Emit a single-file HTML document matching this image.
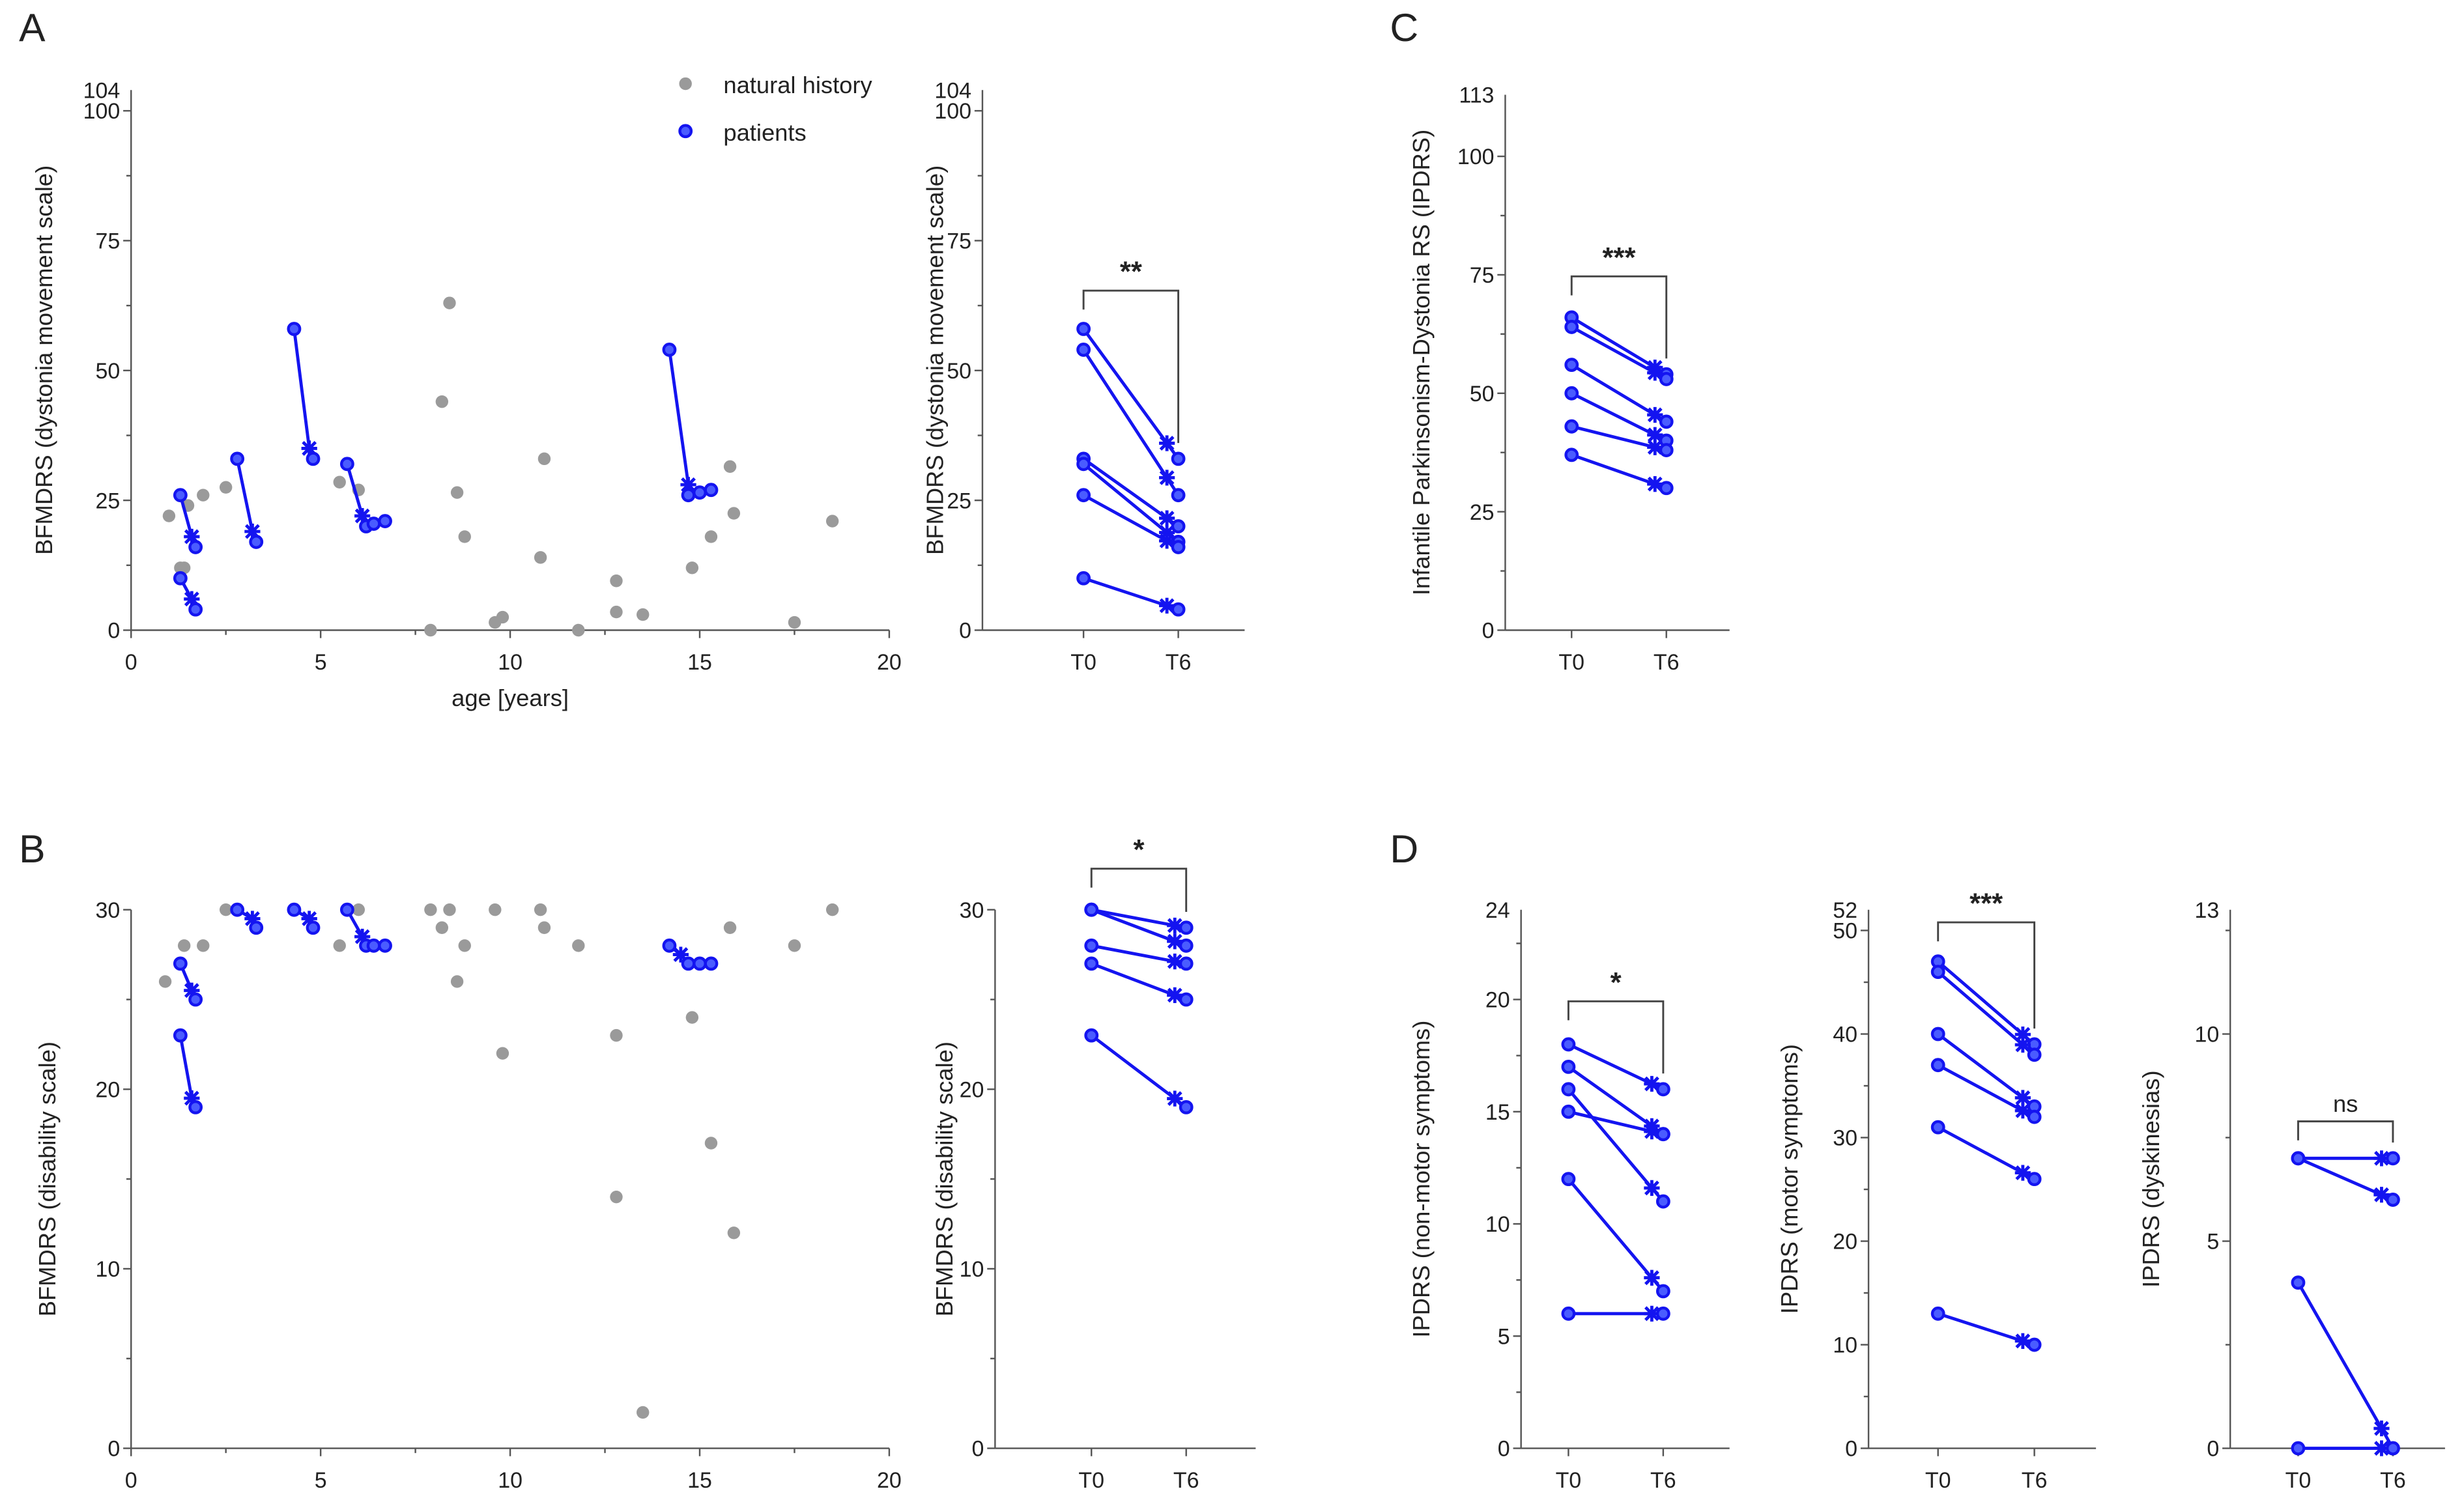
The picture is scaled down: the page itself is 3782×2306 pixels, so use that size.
<!DOCTYPE html>
<html><head><meta charset="utf-8"><style>
html,body{margin:0;padding:0;background:#fff}
svg{display:block}
text{font-family:"Liberation Sans",Arial,sans-serif;fill:#222}
</style></head><body>
<svg id="fig" xmlns="http://www.w3.org/2000/svg" width="3782" height="2306" viewBox="0 0 1560 951" preserveAspectRatio="none"></svg>
<script>
// ---- data ----
const nhAgeA=[1,1.3,1.4,1.5,1.9,2.5,5.5,6,8.2,8.4,8.6,8.8,7.9,9.6,9.8,10.8,10.9,11.8,12.8,12.8,13.5,14.8,15.3,15.8,15.9,17.5,18.5];
const nhScoreA=[22,12,12,24,26,27.5,28.5,27,44,63,26.5,18,0,1.5,2.5,14,33,0,9.5,3.5,3,12,18,31.5,22.5,1.5,21];
const patAgeA=[[1.3,1.6,1.7],[1.3,1.6,1.7],[2.8,3.2,3.3],[4.3,4.7,4.8],[5.7,6.1,6.2,6.4,6.7],[14.2,14.7,14.7,15,15.3]];
const patScoreA=[[26,18,16],[10,6,4],[33,19,17],[58,35,33],[32,22,20,20.5,21],[54,28,26,26.5,27]];
const nhAgeB=[0.9,1.4,1.9,2.5,5.5,6,7.9,8.2,8.4,8.6,8.8,9.6,9.8,10.8,10.9,11.8,12.8,12.8,13.5,14.8,15.3,15.8,15.9,17.5,18.5];
const nhScoreB=[26,28,28,30,28,30,30,29,30,26,28,30,22,30,29,28,23,14,2,24,17,29,12,28,30];
const patAgeB=[[1.3,1.6,1.7],[1.3,1.6,1.7],[2.8,3.2,3.3],[4.3,4.7,4.8],[5.7,6.1,6.2,6.4,6.7],[14.2,14.5,14.7,15,15.3]];
const patScoreB=[[27,25.5,25],[23,19.5,19],[30,29.5,29],[30,29.5,29],[30,28.5,28,28,28],[28,27.5,27,27,27]];
const aT0=[58,54,33,32,26,10], aT6=[33,26,20,17,16,4];
const cT0=[66,64,56,50,43,37], cT6=[54,53,44,40,38,30];
const bT0=[30,30,28,27,23], bT6=[29,28,27,25,19];
const d1T0=[18,17,16,15,12,6], d1T6=[16,14,11,14,7,6];
const d2T0=[47,46,40,37,31,13], d2T6=[39,38,33,32,26,10];
const d3T0=[7,7,4,0], d3T6=[7,6,0,0];
const xTicks=[0,5,10,15,20];

const svg=document.getElementById('fig');
const NS='http://www.w3.org/2000/svg';
function mk(tag,attrs,parent){const e=document.createElementNS(NS,tag);for(const k in attrs)e.setAttribute(k,attrs[k]);(parent||svg).appendChild(e);return e;}
function txt(s,attrs,parent){const e=mk('text',attrs,parent);e.textContent=s;return e;}
const BLUE='#1414f0', AX='#555';

function yAxis(g,x,y0,yTop,max,ticks,minor,extraTop){
  const sy=v=>y0-(v/max)*(y0-yTop);
  mk('line',{x1:x,y1:y0,x2:x,y2:yTop,stroke:AX,'stroke-width':1},g);
  ticks.forEach(t=>{mk('line',{x1:x-5,y1:sy(t),x2:x,y2:sy(t),stroke:AX,'stroke-width':1},g);
    const l=txt(String(t),{x:x-7,y:sy(t)+5,'font-size':14,'text-anchor':'end'},g);
    
    });
  minor.forEach(t=>mk('line',{x1:x-3,y1:sy(t),x2:x,y2:sy(t),stroke:AX,'stroke-width':1},g));
  if(extraTop!==undefined){const l=txt(String(extraTop),{x:x-7,y:sy(extraTop)+5,'font-size':14,'text-anchor':'end'},g);
    
    }
  return sy;
}
function ylabel(g,s,x,yc){const t=txt(s,{x:x,y:yc,'font-size':15,'text-anchor':'middle',transform:`rotate(-90 ${x} ${yc})`},g);
  
  }
function circ(g,x,y,name){const c=mk('circle',{cx:x,cy:y,r:3.6,fill:'#4a5cff',stroke:BLUE,'stroke-width':1.8},g);
  
  }
function star(g,x,y){const p=mk('path',{d:`M${x-4},${y-4}L${x+4},${y+4}M${x+4},${y-4}L${x-4},${y+4}M${x},${y-5}L${x},${y+5}M${x-5},${y}L${x+5},${y}`,stroke:BLUE,'stroke-width':2},g);
  
  }

function scatterPanel(name,x0,xEnd,y0,yTop,max,ticks,minor,extraTop,nhA,nhS,pA,pS,label,lx){
  const g=mk('g',{});
  
  
  const sx=v=>x0+(v/20)*(xEnd-x0);
  const sy=yAxis(g,x0,y0,yTop,max,ticks,minor,extraTop);
  mk('line',{x1:x0,y1:y0,x2:xEnd,y2:y0,stroke:AX,'stroke-width':1},g);
  xTicks.forEach(t=>{mk('line',{x1:sx(t),y1:y0,x2:sx(t),y2:y0+5,stroke:AX},g);
    const l=txt(String(t),{x:sx(t),y:y0+25,'font-size':14,'text-anchor':'middle'},g);
    
    });
  [2.5,7.5,12.5,17.5].forEach(t=>mk('line',{x1:sx(t),y1:y0,x2:sx(t),y2:y0+3,stroke:AX},g));
  ylabel(g,label,lx,(y0+yTop)/2);
  nhA.forEach((a,i)=>{const c=mk('circle',{cx:sx(a),cy:sy(nhS[i]),r:4,fill:'#9a9a9a'},g);
    
    });
  pA.forEach((arr,i)=>{
    const pts=arr.map((a,j)=>sx(a)+','+sy(pS[i][j])).join(' ');
    const pl=mk('polyline',{points:pts,fill:'none',stroke:BLUE,'stroke-width':2},g);
    
    
    arr.forEach((a,j)=>{ if(j===1) star(g,sx(a),sy(pS[i][j])); else circ(g,sx(a),sy(pS[i][j])); });
  });
  return g;
}

function pairedPanel(name,x0,xT0,xT6,xEnd,y0,yTop,max,ticks,minor,extraTop,t0,t6,label,lx,sig,brY){
  const g=mk('g',{});
  
  
  const sy=yAxis(g,x0,y0,yTop,max,ticks,minor,extraTop);
  mk('line',{x1:x0,y1:y0,x2:xEnd,y2:y0,stroke:AX,'stroke-width':1},g);
  [[xT0,'T0'],[xT6,'T6']].forEach(([x,s])=>{mk('line',{x1:x,y1:y0,x2:x,y2:y0+5,stroke:AX},g);
    const l=txt(s,{x:x,y:y0+25,'font-size':14,'text-anchor':'middle'},g);
    
    });
  ylabel(g,label,lx,(y0+yTop)/2);
  const maxT0=Math.max(...t0);
  const br=mk('path',{d:`M${xT0},${brY+12}L${xT0},${brY}L${xT6},${brY}L${xT6},${brY+ (sy(Math.max(...t6))-brY-10)}`,fill:'none',stroke:'#444','stroke-width':1.2},g);
  
  
  const st=txt(sig,{x:(xT0+xT6)/2,y:brY-6,'font-size':sig==='ns'?15:18,'font-weight':sig==='ns'?'normal':'bold','text-anchor':'middle'},g);
  
  
  t0.forEach((v,i)=>{
    const ln=mk('line',{x1:xT0,y1:sy(v),x2:xT6,y2:sy(t6[i]),stroke:BLUE,'stroke-width':2},g);
    
    
    circ(g,xT0,sy(v));
    star(g,xT0+(xT6-xT0)*0.88,sy(v+(t6[i]-v)*0.88));
    circ(g,xT6,sy(t6[i]));
  });
  return g;
}

// panel letters
[['A',12,26],['B',12,546],['C',880,26],['D',880,546]].forEach(([s,x,y])=>{
  const t=txt(s,{x:x,y:y,'font-size':25});
  
  });

scatterPanel('panel-a-scatter',83,563,399,57,104,[0,25,50,75,100],[12.5,37.5,62.5,87.5],104,nhAgeA,nhScoreA,patAgeA,patScoreA,'BFMDRS (dystonia movement scale)',33);
const xl=txt('age [years]',{x:323,y:447,'font-size':15,'text-anchor':'middle'});


// legend
const lg=mk('g',{});


mk('circle',{cx:434,cy:53,r:4,fill:'#9a9a9a'},lg);
txt('natural history',{x:458,y:59,'font-size':15},lg);
circ(lg,434,83,'legend-patient-marker');
txt('patients',{x:458,y:89,'font-size':15},lg);

pairedPanel('panel-a-paired',622,686,746,788,399,57,104,[0,25,50,75,100],[12.5,37.5,62.5,87.5],104,aT0,aT6,'BFMDRS (dystonia movement scale)',597,'**',184);
pairedPanel('panel-c-paired',953,995,1055,1095,399,60,113,[0,25,50,75,100],[12.5,37.5,62.5,87.5],113,cT0,cT6,'Infantile Parkinsonism-Dystonia RS (IPDRS)',905,'***',175);

scatterPanel('panel-b-scatter',83,563,917,576,30,[0,10,20,30],[5,15,25],undefined,nhAgeB,nhScoreB,patAgeB,patScoreB,'BFMDRS (disability scale)',35);
pairedPanel('panel-b-paired',630,691,751,795,917,576,30,[0,10,20,30],[5,15,25],undefined,bT0,bT6,'BFMDRS (disability scale)',603,'*',550);
pairedPanel('panel-d-nonmotor',963,993,1053,1095,917,576,24,[0,5,10,15,20],[2.5,7.5,12.5,17.5,22.5],24,d1T0,d1T6,'IPDRS (non-motor symptoms)',905,'*',634);
pairedPanel('panel-d-motor',1183,1227,1288,1327,917,576,52,[0,10,20,30,40,50],[5,15,25,35,45],52,d2T0,d2T6,'IPDRS (motor symptoms)',1138,'***',584);
pairedPanel('panel-d-dyskinesias',1412,1455,1515,1548,917,576,13,[0,5,10],[2.5,7.5,12.5],13,d3T0,d3T6,'IPDRS (dyskinesias)',1367,'ns',710);
</script>
</body></html>
